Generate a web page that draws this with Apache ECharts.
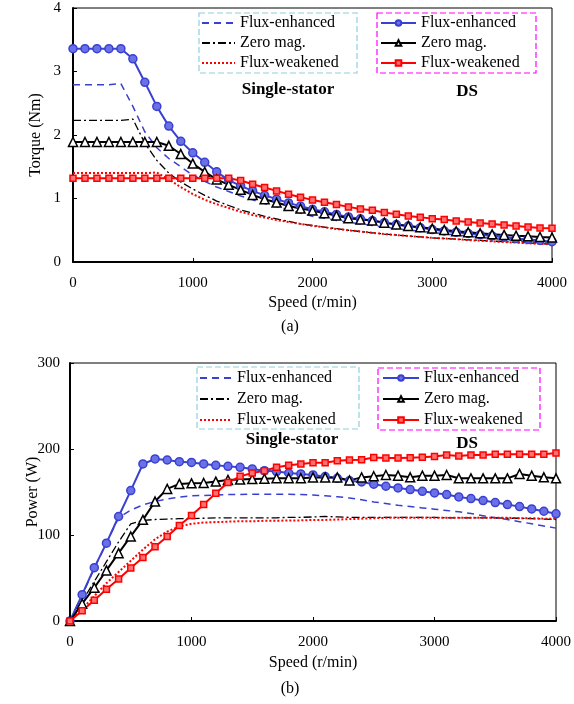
<!DOCTYPE html>
<html>
<head>
    <meta charset="UTF-8">
    <title>Torque and power vs speed</title>
    <script src="https://cdn.jsdelivr.net/npm/echarts@6/dist/echarts.min.js"></script>
    <style>
        html, body {
            margin: 0;
            padding: 0;
            background: #fff;
        }
        #main {
            width: 574px;
            height: 704px;
        }
    </style>
</head>
<body>
<div id="main"></div>
<script>
    // speed, r/min
    var speed = [0, 100, 200, 300, 400, 500, 600, 700, 800, 900, 1000, 1100, 1200, 1300, 1400, 1500, 1600, 1700, 1800, 1900,
        2000, 2100, 2200, 2300, 2400, 2500, 2600, 2700, 2800, 2900, 3000, 3100, 3200, 3300, 3400, 3500, 3600, 3700, 3800, 3900, 4000];

    // (a) torque, Nm
    var tqDsEnh = [3.36, 3.36, 3.36, 3.36, 3.36, 3.20, 2.83, 2.45, 2.14, 1.90, 1.72, 1.57, 1.42, 1.29, 1.20, 1.12, 1.05, 0.99, 0.93, 0.88,
        0.83, 0.79, 0.75, 0.71, 0.68, 0.65, 0.62, 0.59, 0.565, 0.54, 0.51, 0.49, 0.47, 0.45, 0.43, 0.41, 0.39, 0.37, 0.355, 0.34, 0.32];
    var tqDsZero = [1.89, 1.89, 1.89, 1.89, 1.89, 1.89, 1.89, 1.89, 1.83, 1.70, 1.55, 1.42, 1.30, 1.215, 1.136, 1.057, 0.988, 0.936, 0.883, 0.841,
        0.81, 0.768, 0.731, 0.689, 0.668, 0.652, 0.62, 0.589, 0.568, 0.547, 0.526, 0.505, 0.484, 0.468, 0.452, 0.436, 0.426, 0.415, 0.405, 0.394, 0.384];
    var tqDsWeak = [1.32, 1.32, 1.32, 1.32, 1.32, 1.32, 1.32, 1.32, 1.32, 1.32, 1.32, 1.32, 1.32, 1.32, 1.283, 1.225, 1.172, 1.12, 1.067, 1.02,
        0.978, 0.941, 0.904, 0.868, 0.836, 0.815, 0.778, 0.752, 0.726, 0.705, 0.683, 0.668, 0.647, 0.631, 0.615, 0.599, 0.584, 0.568, 0.552, 0.536, 0.531];
    var tqSsEnh = [2.79, 2.79, 2.79, 2.79, 2.81, 2.45, 2.05, 1.80, 1.63, 1.50, 1.37, 1.27, 1.18, 1.11, 1.04, 0.98, 0.92, 0.87, 0.82, 0.77,
        0.72, 0.69, 0.655, 0.625, 0.60, 0.575, 0.55, 0.525, 0.505, 0.485, 0.465, 0.445, 0.425, 0.41, 0.39, 0.375, 0.355, 0.34, 0.32, 0.305, 0.29];
    var tqSsZero = [2.23, 2.23, 2.23, 2.23, 2.23, 2.25, 1.87, 1.60, 1.40, 1.26, 1.15, 1.05, 0.96, 0.89, 0.82, 0.77, 0.72, 0.68, 0.64, 0.60,
        0.575, 0.55, 0.525, 0.50, 0.48, 0.46, 0.44, 0.425, 0.41, 0.395, 0.38, 0.37, 0.36, 0.35, 0.34, 0.33, 0.32, 0.31, 0.30, 0.29, 0.28];
    var tqSsWeak = [1.40, 1.40, 1.40, 1.40, 1.40, 1.40, 1.40, 1.41, 1.30, 1.18, 1.07, 0.98, 0.91, 0.85, 0.79, 0.74, 0.70, 0.66, 0.63, 0.60,
        0.57, 0.545, 0.52, 0.50, 0.48, 0.46, 0.44, 0.425, 0.41, 0.395, 0.38, 0.37, 0.36, 0.345, 0.335, 0.325, 0.315, 0.305, 0.295, 0.285, 0.28];

    // (b) power, W
    var pwDsEnh = [0, 30.6, 62, 90.5, 121.5, 151.6, 182.6, 188.4, 187.2, 185.3, 184.4, 182.6, 181, 179.8, 178.7, 176.8, 174.8, 173.7, 172.1, 171,
        169.8, 167.9, 165.9, 163.2, 161.7, 159, 156.7, 154.7, 152.8, 150.8, 148.9, 147, 144.3, 142.3, 140, 137.7, 135.4, 133, 130.3, 127.6, 124.6];
    var pwDsZero = [0, 20.1, 38.7, 58.8, 78.9, 98.3, 117.6, 138.9, 153.6, 159.4, 160.1, 160.5, 162.1, 164, 164.4, 165, 165.5, 166, 166, 166,
        167, 167, 167, 163.5, 167, 168.3, 169.8, 169, 167.1, 169, 169, 169.8, 165.9, 165.9, 165.9, 165.9, 165.9, 171, 169, 167.1, 165.9];
    var pwDsWeak = [0, 12, 24, 36.8, 48.8, 61.5, 73.9, 86.3, 98.3, 111, 122.6, 135.4, 148.5, 161, 168.2, 172.1, 174.8, 178.7, 181, 182.6,
        184.1, 184.1, 186.4, 187.2, 187.6, 190, 189.5, 189.5, 189.9, 190.3, 191.4, 193, 191.8, 193, 193, 193.8, 193.8, 193.8, 193.8, 193.8, 195.3];
    var pwSsEnh = [0, 30, 61, 91, 120, 129, 135, 139, 142, 144, 145.5, 146, 146.5, 147, 147, 147.5, 147.5, 147.5, 147.5, 147,
        146.5, 145.5, 144.5, 143, 141, 138.5, 136.5, 134.5, 133, 131.5, 130, 128.5, 127, 125, 122.5, 120, 118, 115.5, 113, 110.5, 108];
    var pwSsZero = [0, 23, 46, 69, 92, 113, 117, 118, 118.5, 119, 119, 119.5, 120, 120, 120, 120, 120, 120, 120.5, 120.5,
        121, 121.5, 121, 120.5, 120.5, 120.5, 120.5, 120.5, 120.5, 120.5, 120.5, 120, 120, 120, 120, 120, 119.5, 119.5, 119, 118.5, 118];
    var pwSsWeak = [0, 14, 29, 44, 57, 70, 83, 95, 104, 110, 113, 114.5, 115, 115.5, 116, 116, 116.5, 116.5, 117, 117,
        117.5, 117.5, 118, 118.5, 119, 119.5, 120, 120, 120, 120, 120, 120, 120, 120, 120, 120, 120, 119.5, 119.5, 119, 119];

    var FONT = 'Liberation Serif';
    var BLUE = '#3a40d0';
    var RED = '#ff0000';
    var BLACK = '#000000';

    function pairs(ys) {
        return speed.map(function (s, i) { return [s, ys[i]]; });
    }

    function ssLine(name, ys, idx, color, type, width) {
        return {
            name: name, type: 'line', xAxisIndex: idx, yAxisIndex: idx,
            data: pairs(ys), symbol: 'none', z: 2,
            lineStyle: {color: color, type: type, width: width},
            itemStyle: {color: color}
        };
    }

    function dsLine(name, ys, idx, color, symbol, size, fill) {
        return {
            name: name, type: 'line', xAxisIndex: idx, yAxisIndex: idx,
            data: pairs(ys), symbol: symbol, symbolSize: size, showAllSymbol: true, z: 3,
            lineStyle: {color: color, width: 2},
            itemStyle: {color: fill, borderColor: color, borderWidth: 1.5}
        };
    }

    function series(idx, e1, z1, w1, e2, z2, w2) {
        return [
            ssLine('SS Flux-enhanced', e1, idx, BLUE, [7, 5], 1.5),
            ssLine('SS Zero mag.', z1, idx, BLACK, [8, 3, 2, 3], 1.3),
            ssLine('SS Flux-weakened', w1, idx, RED, [2, 2], 2),
            dsLine('DS Flux-enhanced', e2, idx, BLUE, 'circle', 8, '#6a70e6'),
            dsLine('DS Zero mag.', z2, idx, BLACK, 'triangle', 9, '#ffffff'),
            dsLine('DS Flux-weakened', w2, idx, RED, 'rect', 6, '#ff7070')
        ];
    }

    function xAxis(idx, gap) {
        return {
            type: 'value', gridIndex: idx, min: 0, max: 4000, interval: 1000,
            name: 'Speed (r/min)', nameLocation: 'middle', nameGap: gap, nameMoveOverlap: false,
            nameTextStyle: {fontFamily: FONT, fontSize: 16, color: '#000'},
            axisLine: {onZero: false, lineStyle: {color: '#000', width: 2}},
            axisTick: {inside: true, length: 4, lineStyle: {color: '#000'}},
            axisLabel: {fontFamily: FONT, fontSize: 15, color: '#000', margin: 14,
                formatter: function (v) { return String(v); }},
            splitLine: {show: false}
        };
    }

    function yAxis(idx, name, max, interval, gap, margin) {
        return {
            type: 'value', gridIndex: idx, min: 0, max: max, interval: interval,
            name: name, nameLocation: 'middle', nameGap: gap, nameMoveOverlap: false,
            nameTextStyle: {fontFamily: FONT, fontSize: 16, color: '#000'},
            axisLine: {show: true, onZero: false, lineStyle: {color: '#000', width: 2}},
            axisTick: {show: true, inside: true, length: 4, lineStyle: {color: '#000'}},
            axisLabel: {fontFamily: FONT, fontSize: 15, color: '#000', margin: margin,
                formatter: function (v) { return String(v); }},
            splitLine: {show: false}
        };
    }

    function legend(left, top, itemWidth, gap, names, hideSymbol) {
        return {
            left: left, top: top, orient: 'vertical', padding: 0,
            itemWidth: itemWidth, itemHeight: 7, itemGap: gap,
            textStyle: {fontFamily: FONT, fontSize: 16, color: '#000', lineHeight: 16},
            formatter: function (n) { return n.replace(/^(SS|DS) /, ''); },
            data: names.map(function (n) {
                return hideSymbol ? {name: n, itemStyle: {opacity: 0}} : {name: n};
            })
        };
    }

    function box(x, y, w, h, color) {
        return {
            type: 'rect', shape: {x: x, y: y, width: w, height: h},
            style: {fill: null, stroke: color, lineWidth: 1.2, lineDash: [6, 3]}, z: 10
        };
    }

    function label(x, y, text, bold, size) {
        return {
            type: 'text', x: x, y: y,
            style: {text: text, fontFamily: FONT, fontSize: size, fontWeight: bold ? 'bold' : 'normal',
                fill: '#000', align: 'center', verticalAlign: 'middle'}, z: 10
        };
    }

    var ssNames = ['SS Flux-enhanced', 'SS Zero mag.', 'SS Flux-weakened'];
    var dsNames = ['DS Flux-enhanced', 'DS Zero mag.', 'DS Flux-weakened'];

    var chart = echarts.init(document.getElementById('main'), null, {renderer: 'canvas'});
    chart.setOption({
        backgroundColor: '#fff',
        animation: false,
        grid: [
            {left: 73, right: 22, top: 8, height: 254, show: true, borderColor: '#000', borderWidth: 1},
            {left: 70, right: 17, top: 363, height: 258, show: true, borderColor: '#000', borderWidth: 1}
        ],
        xAxis: [xAxis(0, 33), xAxis(1, 34)],
        yAxis: [
            yAxis(0, 'Torque (Nm)', 4, 1, 29, 12),
            yAxis(1, 'Power (W)', 300, 100, 29, 10)
        ],
        legend: [
            legend(201, 15, 33, 4, ssNames, true),
            legend(380, 15, 35, 4, dsNames, false),
            legend(199, 370, 32, 5, ssNames, true),
            legend(382, 370, 36, 5, dsNames, false)
        ],
        graphic: [
            box(199, 13, 158, 60, '#8fd0e0'),
            box(377, 13, 159, 60, '#ff00ff'),
            box(197, 367, 162, 62, '#8fd0e0'),
            box(378, 368, 162, 62, '#ff00ff'),
            label(288, 90, 'Single-stator', true, 17),
            label(467, 92, 'DS', true, 17),
            label(292, 440, 'Single-stator', true, 17),
            label(467, 444, 'DS', true, 17),
            label(290, 327, '(a)', false, 16),
            label(290, 689, '(b)', false, 16)
        ],
        series: series(0, tqSsEnh, tqSsZero, tqSsWeak, tqDsEnh, tqDsZero, tqDsWeak)
            .concat(series(1, pwSsEnh, pwSsZero, pwSsWeak, pwDsEnh, pwDsZero, pwDsWeak))
    });
</script>
</body>
</html>
